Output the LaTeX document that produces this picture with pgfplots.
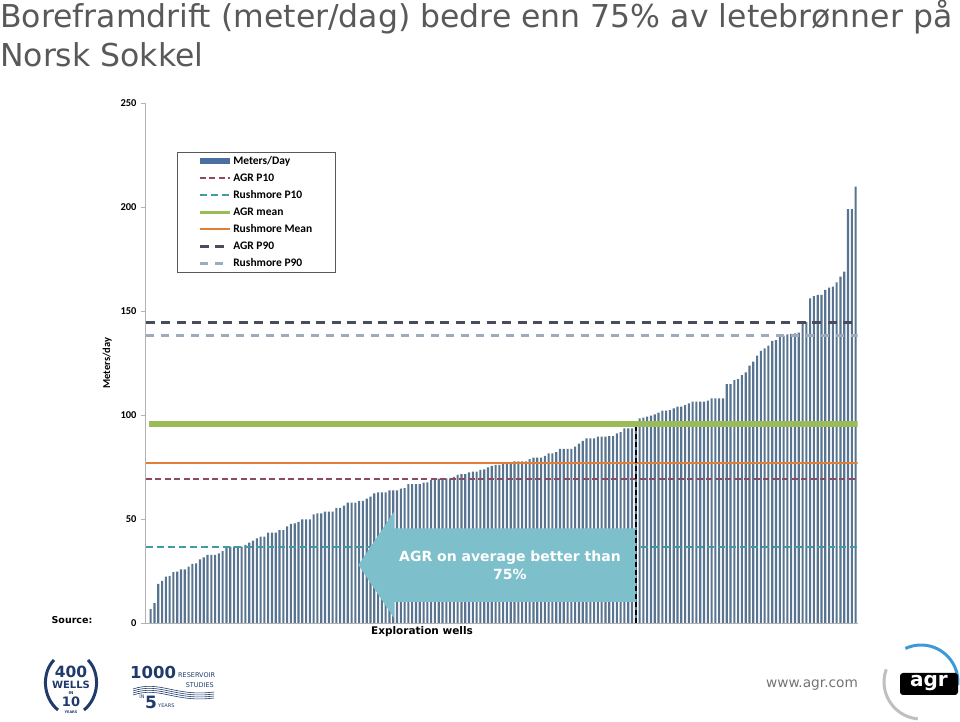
\documentclass[border=0pt]{standalone}
\usepackage{pgfplots}
\usepackage{pgfplotstable}
\pgfplotsset{compat=1.18}
\usepackage{fontspec}
\setmainfont{DejaVu Sans}
\newfontfamily\carlito{Carlito}

\definecolor{barblue}{HTML}{587491}
\definecolor{legblue}{HTML}{4A6FA0}
\definecolor{agrpten}{HTML}{8E4A62}
\definecolor{rushpten}{HTML}{3F9CA2}
\definecolor{agrmean}{HTML}{9BBB59}
\definecolor{rushmean}{HTML}{E07F35}
\definecolor{agrpninety}{HTML}{4B4B5E}
\definecolor{rushpninety}{HTML}{9DABBA}
\definecolor{arrowteal}{HTML}{7DBFCA}
\definecolor{titlegray}{HTML}{595959}
\definecolor{navy}{HTML}{1F3A6B}
\definecolor{agrblue}{HTML}{3D9AD8}

% meters/day per exploration well, sorted
\pgfplotstableread{
x y
1 6.7
2 9.5
3 18.8
4 20.3
5 22.3
6 22.6
7 24.4
8 24.7
9 25.8
10 25.8
11 27.1
12 28.4
13 28.7
14 30.6
15 31.6
16 32.7
17 32.7
18 32.7
19 33.5
20 34.6
21 36.7
22 36.7
23 36.7
24 36.7
25 36.7
26 37.5
27 38.6
28 39.6
29 40.7
30 41.5
31 41.5
32 43.4
33 43.4
34 43.5
35 44.7
36 44.7
37 46.5
38 47.6
39 47.9
40 48.6
41 49.8
42 49.8
43 49.8
44 52.2
45 52.7
46 52.7
47 53.5
48 53.5
49 53.5
50 55.4
51 55.4
52 56.4
53 57.9
54 57.9
55 57.9
56 58.7
57 58.7
58 59.8
59 60.8
60 62.3
61 62.8
62 62.8
63 62.8
64 63.8
65 63.8
66 63.8
67 64.6
68 64.9
69 66.8
70 66.8
71 66.8
72 66.8
73 67.5
74 67.6
75 68.8
76 69.1
77 69.4
78 69.5
79 69.5
80 69.5
81 70.3
82 71.2
83 71.6
84 71.6
85 72.4
86 72.8
87 72.8
88 73.6
89 73.9
90 74.8
91 75.5
92 76.0
93 76.0
94 76.4
95 76.4
96 76.8
97 77.7
98 77.7
99 77.7
100 77.7
101 78.8
102 79.5
103 79.5
104 79.5
105 80.3
106 81.6
107 81.6
108 82.2
109 83.7
110 83.7
111 83.7
112 83.7
113 84.8
114 86.2
115 87.6
116 88.8
117 88.8
118 88.8
119 89.6
120 89.6
121 89.6
122 89.9
123 89.9
124 91.2
125 91.8
126 93.6
127 93.6
128 93.6
129 94.0
130 98.4
131 98.7
132 99.2
133 99.7
134 100.3
135 101.1
136 102.1
137 102.1
138 102.4
139 103.2
140 104.0
141 104.0
142 104.8
143 105.6
144 106.4
145 106.4
146 106.4
147 106.4
148 106.9
149 108.0
150 108.0
151 108.0
152 108.0
153 114.9
154 114.9
155 116.8
156 117.3
157 119.2
158 120.5
159 123.7
160 125.6
161 128.5
162 130.8
163 132.0
164 133.3
165 135.6
166 136.0
167 137.7
168 138.2
169 138.8
170 139.0
171 139.3
172 139.6
173 144.6
174 144.6
175 156.1
176 157.2
177 157.7
178 157.7
179 160.1
180 161.2
181 161.7
182 163.8
183 166.5
184 168.9
185 199.0
186 199.0
187 209.8
}\wells

\begin{document}
\begin{tikzpicture}[x=1pt,y=1pt]
\useasboundingbox (0,0) rectangle (960,722);

% slide title
\node[anchor=base west, inner sep=0, text=titlegray, font=\fontsize{31.5}{37}\selectfont] at (0,694) {Boreframdrift (meter/dag) bedre enn 75\% av letebrønner på};
\node[anchor=base west, inner sep=0, text=titlegray, font=\fontsize{31.5}{37}\selectfont] at (0,655) {Norsk Sokkel};

\begin{axis}[
    at={(145pt,99pt)}, anchor=south west,
    width=712.5pt, height=520pt, scale only axis,
    xmin=-0.5, xmax=187.5, ymin=0, ymax=250,
    axis lines=left,
    axis line style={-, draw=gray!60, line width=0.8pt},
    xtick=\empty,
    ytick={0,50,...,250},
    tick align=outside, major tick length=4pt,
    tick style={gray!60, line width=0.6pt},
    /pgf/number format/assume math mode=true,
    yticklabel style={font=\carlito\bfseries\fontsize{10.5}{12}\selectfont, xshift=-1pt},
    ylabel={Meters/day},
    ylabel style={at={(axis description cs:-0.053,0.5)}, anchor=center,
        font=\carlito\bfseries\fontsize{10.5}{12}\selectfont},
    legend cell align=left,
    legend style={at={(0.045,0.906)}, anchor=north west,
        draw=gray!70!black, line width=0.8pt, fill=white,
        inner xsep=21pt, inner ysep=0.5pt, row sep=0pt,
        font=\carlito\bfseries\fontsize{11.5}{13}\selectfont,
        nodes={text height=8pt, text depth=2pt, inner ysep=3.5pt, inner xsep=2pt}},
    legend image code/.code={\draw[#1] (0pt,0pt) -- (30pt,0pt);},
]
\addplot[ybar, bar width=2.1pt, fill=barblue, draw=none,
    legend image code/.code={\fill[legblue] (0pt,-2.8pt) rectangle (30pt,2.8pt);}]
    table[x=x, y=y] {\wells};
\addplot[agrpten, line width=2pt, dash pattern=on 6pt off 3.5pt]
    coordinates {(-0.3,69.4) (187.5,69.4)};
\addplot[rushpten, line width=2pt, dash pattern=on 7pt off 4pt]
    coordinates {(-0.3,36.5) (187.5,36.5)};
\addplot[agrmean, line width=6pt,
    legend image code/.code={\draw[agrmean, line width=2.5pt] (0pt,0pt) -- (30pt,0pt);}]
    coordinates {(0.5,95.8) (187.5,95.8)};
\addplot[rushmean, line width=2pt]
    coordinates {(-0.3,77.1) (187.5,77.1)};
\addplot[agrpninety, line width=2.8pt, dash pattern=on 9pt off 6.5pt]
    coordinates {(-0.3,144.6) (187.5,144.6)};
\addplot[rushpninety, line width=2.5pt, dash pattern=on 8.5pt off 6.5pt]
    coordinates {(-0.3,138.1) (187.5,138.1)};
\legend{Meters/Day, AGR P10, Rushmore P10, AGR mean, Rushmore Mean, AGR P90, Rushmore P90}

% call-out arrow
\fill[arrowteal] (axis cs:55.8,27.9) -- (axis cs:65.2,53.5) -- (axis cs:65.2,45.5)
    -- (axis cs:129,45.5) -- (axis cs:129,10.2) -- (axis cs:65.2,10.2)
    -- (axis cs:65.2,2.4) -- cycle;
\node[align=center, text=white, font=\bfseries\fontsize{14}{18}\selectfont]
    at (axis cs:95.8,27.6) {AGR on average better than\\75\%};

\addplot[forget plot, black, line width=2.5pt, dash pattern=on 5pt off 3pt]
    coordinates {(129,0) (129,94)};
\end{axis}

\node[font=\bfseries\fontsize{10.5}{12}\selectfont] at (422,90) {Exploration wells};
\node[font=\bfseries\fontsize{9.5}{11}\selectfont] at (72,102) {Source:};
\node[text=gray!90!black, font=\fontsize{13.7}{16}\selectfont] at (812,37) {www.agr.com};

% 400 wells logo
\begin{scope}[navy]
\node[font=\bfseries\fontsize{15.5}{16}\selectfont, inner sep=0] at (71,50) {400};
\node[font=\bfseries\fontsize{10}{11}\selectfont, inner sep=0] at (71,37) {WELLS};
\node[font=\bfseries\fontsize{4}{5}\selectfont, inner sep=0] at (71,29) {IN};
\node[font=\bfseries\fontsize{13}{14}\selectfont, inner sep=0] at (71,20) {10};
\node[font=\bfseries\fontsize{3.5}{4}\selectfont, inner sep=0] at (71,10) {YEARS};
\draw[line width=3pt] (54,62) .. controls (42,50) and (42,25) .. (58,12);
\draw[line width=3pt] (88,62) .. controls (100,50) and (100,25) .. (84,12);
\end{scope}
% 1000 studies logo
\begin{scope}[navy]
\node[font=\bfseries\fontsize{16.5}{17}\selectfont, inner sep=0, anchor=west] at (130,50) {1000};
\node[font=\fontsize{6.5}{7}\selectfont, inner sep=0, anchor=west] at (178,47) {RESERVOIR};
\node[font=\fontsize{6.5}{7}\selectfont, inner sep=0, anchor=east] at (214,37) {STUDIES};
\foreach \d in {0,2,4,6}
  \draw[line width=0.6pt] (133,33-\d) .. controls (160,42-\d) and (175,25-\d) .. (214,30-\d);
\node[font=\fontsize{5}{6}\selectfont, inner sep=0] at (142,25) {IN};
\node[font=\bfseries\fontsize{17}{18}\selectfont, inner sep=0] at (151,20) {5};
\node[font=\fontsize{5}{6}\selectfont, inner sep=0, anchor=west] at (158,16) {YEARS};
\end{scope}
% agr logo
\draw[agrblue, line width=3pt] (921,40) ++(115:37) arc (115:-5:37);
\draw[gray!50, line width=3pt] (921,40) ++(160:37) arc (160:265:37);
\fill[black, rounded corners=3pt] (900,27) rectangle (958,49);
\node[text=white, font=\bfseries\fontsize{20}{20}\selectfont, inner sep=0] at (929,39) {agr};
\end{tikzpicture}
\end{document}
